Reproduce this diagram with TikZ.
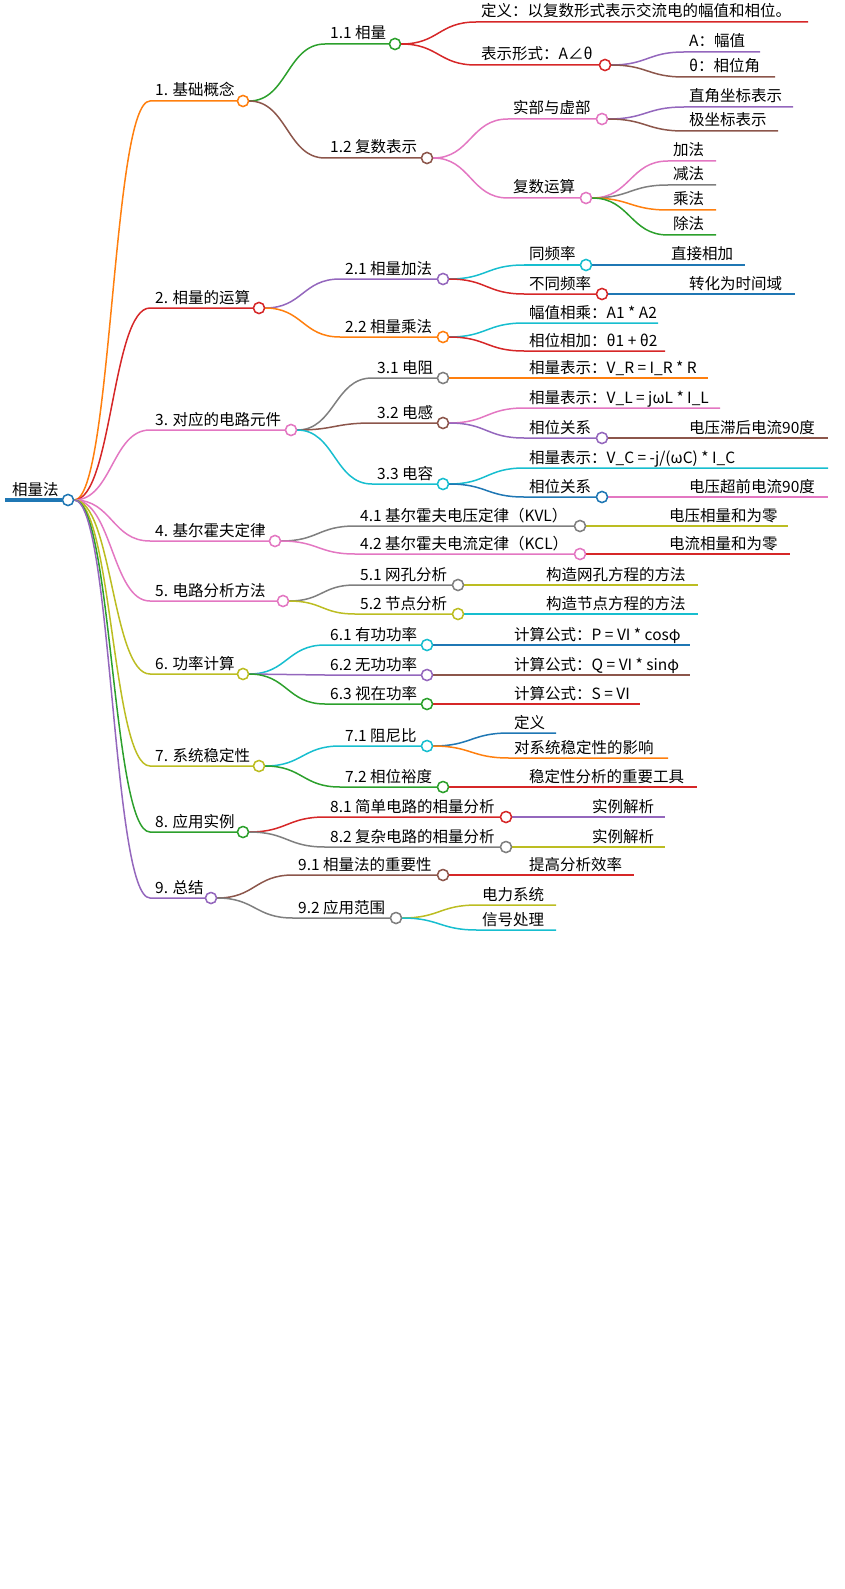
\documentclass[tikz,border=0pt]{standalone}
\usepackage{fontspec}
\setmainfont{Noto Sans CJK SC}
\usetikzlibrary{calc}
\definecolor{cOr}{HTML}{FF7F0E}\definecolor{cRe}{HTML}{D62728}\definecolor{cPi}{HTML}{E377C2}
\definecolor{cGr}{HTML}{2CA02C}\definecolor{cBr}{HTML}{8C564B}\definecolor{cPu}{HTML}{9467BD}
\definecolor{cGy}{HTML}{7F7F7F}\definecolor{cOl}{HTML}{BCBD22}\definecolor{cCy}{HTML}{17BECF}
\definecolor{cBl}{HTML}{1F77B4}
\tikzset{edge/.style={line width=1.5pt},
 circ/.style={circle,fill=white,line width=1.4pt,minimum size=11pt,inner sep=0pt},
 lab/.style={font=\fontsize{15.5}{17}\selectfont,inner sep=0pt,anchor=base west}}
% parent, name, color, sx, y, cx, text
\newcommand\inn[7]{%
 \coordinate (#2s) at (#4,#5);
 \node[circ,draw=#3] (#2) at (#6,#5) {};
 \draw[edge,#3] let \p1=(#1.east), \p2=(#2s) in (\p1) .. controls ({(\x1+\x2)/2},\y1) and ({(\x1+\x2)/2},\y2) .. (\p2) -- (#2.west);
 \node[lab] (#2t) at (#4+5,#5-5) {#7};}
% parent, name, color, sx, y, ex, text
\newcommand\lf[7]{%
 \coordinate (#2s) at (#4,#5);
 \coordinate (#2e) at (#6,#5);
 \draw[edge,#3] let \p1=(#1.east), \p2=(#2s) in (\p1) .. controls ({(\x1+\x2)/2},\y1) and ({(\x1+\x2)/2},\y2) .. (\p2) -- (#2e);
 \node[lab] (#2t) at (#4+5,#5-5) {#7};}
\begin{document}
\begin{tikzpicture}[x=1pt,y=-1pt]
\useasboundingbox (0,0) rectangle (844,1589);
\coordinate (R0) at (5,500);
\node[circ,draw=cBl] (R) at (68,500) {};
\draw[cBl,line width=4pt] (R0) -- (R.west);
\node[lab] (Rt) at (12,495) {相量法};
\inn{R}{n1}{cOr}{150}{101}{243}{1. 基础概念}
\inn{R}{n2}{cRe}{150}{308}{259}{2. 相量的运算}
\inn{R}{n3}{cPi}{150}{430}{291}{3. 对应的电路元件}
\inn{R}{n4}{cPi}{150}{541}{275}{4. 基尔霍夫定律}
\inn{R}{n5}{cPi}{150}{601}{283}{5. 电路分析方法}
\inn{R}{n6}{cOl}{150}{674}{243}{6. 功率计算}
\inn{R}{n7}{cOl}{150}{766}{259}{7. 系统稳定性}
\inn{R}{n8}{cGr}{150}{832}{243}{8. 应用实例}
\inn{R}{n9}{cPu}{150}{898}{211}{9. 总结}
% level 2
\inn{n1}{a11}{cGr}{325}{44}{395}{1.1 相量}
\inn{n1}{a12}{cBr}{325}{158}{427}{1.2 复数表示}
\inn{n2}{a21}{cPu}{340}{279}{443}{2.1 相量加法}
\inn{n2}{a22}{cOr}{340}{337}{443}{2.2 相量乘法}
\inn{n3}{a31}{cGy}{372}{378}{443}{3.1 电阻}
\inn{n3}{a32}{cBr}{372}{423}{443}{3.2 电感}
\inn{n3}{a33}{cCy}{372}{484}{443}{3.3 电容}
\inn{n4}{a41}{cGy}{355}{526}{580}{4.1 基尔霍夫电压定律（KVL）}
\inn{n4}{a42}{cPi}{355}{554}{580}{4.2 基尔霍夫电流定律（KCL）}
\inn{n5}{a51}{cGy}{355}{585}{458}{5.1 网孔分析}
\inn{n5}{a52}{cOl}{355}{614}{458}{5.2 节点分析}
\inn{n6}{a61}{cCy}{325}{645}{427}{6.1 有功功率}
\inn{n6}{a62}{cPu}{325}{675}{427}{6.2 无功功率}
\inn{n6}{a63}{cGr}{325}{704}{427}{6.3 视在功率}
\inn{n7}{a71}{cCy}{340}{746}{427}{7.1 阻尼比}
\inn{n7}{a72}{cGr}{340}{787}{443}{7.2 相位裕度}
\inn{n8}{a81}{cRe}{325}{817}{506}{8.1 简单电路的相量分析}
\inn{n8}{a82}{cGy}{325}{847}{506}{8.2 复杂电路的相量分析}
\inn{n9}{a91}{cBr}{293}{875}{443}{9.1 相量法的重要性}
\inn{n9}{a92}{cGy}{293}{918}{396}{9.2 应用范围}
% level 3
\lf{a11}{b1}{cRe}{476}{22}{808}{定义：以复数形式表示交流电的幅值和相位。}
\inn{a11}{b2}{cRe}{476}{65}{605}{表示形式：A∠θ}
\lf{b2}{b21}{cPu}{684}{52}{760}{A：幅值}
\lf{b2}{b22}{cBr}{684}{77}{775}{θ：相位角}
\inn{a12}{c1}{cPi}{508}{119}{602}{实部与虚部}
\inn{a12}{c2}{cPi}{508}{198}{586}{复数运算}
\lf{c1}{c11}{cPu}{684}{107}{793}{直角坐标表示}
\lf{c1}{c12}{cBr}{684}{131}{778}{极坐标表示}
\lf{c2}{c21}{cPi}{668}{161}{716}{加法}
\lf{c2}{c22}{cGy}{668}{185}{716}{减法}
\lf{c2}{c23}{cOr}{668}{210}{716}{乘法}
\lf{c2}{c24}{cGr}{668}{235}{716}{除法}
\inn{a21}{d1}{cCy}{524}{265}{586}{同频率}
\inn{a21}{d2}{cRe}{524}{294}{602}{不同频率}
\lf{d1}{d11}{cBl}{666}{265}{745}{直接相加}
\lf{d2}{d21}{cBl}{684}{294}{795}{转化为时间域}
\lf{a22}{d3}{cCy}{524}{323}{658}{幅值相乘：A1 * A2}
\lf{a22}{d4}{cRe}{524}{351}{665}{相位相加：θ1 + θ2}
\lf{a31}{e0}{cOr}{524}{378}{708}{相量表示：V\_R = I\_R * R}
\lf{a32}{e3}{cPi}{524}{408}{720}{相量表示：V\_L = jωL * I\_L}
\inn{a32}{e1}{cPu}{524}{438}{602}{相位关系}
\lf{e1}{e11}{cBr}{684}{438}{828}{电压滞后电流90度}
\lf{a33}{e4}{cCy}{524}{468}{828}{相量表示：V\_C = -j/(ωC) * I\_C}
\inn{a33}{e2}{cBl}{524}{497}{602}{相位关系}
\lf{e2}{e21}{cPi}{684}{497}{828}{电压超前电流90度}
\lf{a41}{f1}{cOl}{664}{526}{788}{电压相量和为零}
\lf{a42}{f2}{cRe}{664}{554}{790}{电流相量和为零}
\lf{a51}{g1}{cOl}{541}{585}{698}{构造网孔方程的方法}
\lf{a52}{g2}{cCy}{541}{614}{698}{构造节点方程的方法}
\lf{a61}{h1}{cBl}{509}{645}{690}{计算公式：P = VI * cosφ}
\lf{a62}{h2}{cBr}{509}{675}{690}{计算公式：Q = VI * sinφ}
\lf{a63}{h3}{cRe}{509}{704}{640}{计算公式：S = VI}
\lf{a71}{i1}{cBl}{509}{733}{556}{定义}
\lf{a71}{i2}{cOr}{509}{758}{668}{对系统稳定性的影响}
\lf{a72}{i3}{cRe}{524}{787}{697}{稳定性分析的重要工具}
\lf{a81}{j1}{cPu}{587}{817}{665}{实例解析}
\lf{a82}{j2}{cOl}{587}{847}{665}{实例解析}
\lf{a91}{k1}{cRe}{524}{875}{634}{提高分析效率}
\lf{a92}{k2}{cOl}{477}{905}{556}{电力系统}
\lf{a92}{k3}{cCy}{477}{930}{556}{信号处理}
% redraw circles on top
\node[circ,draw=cBl] at (R) {};
\foreach \n/\c in {a11/cGr,a12/cBr,a21/cPu,a22/cOr,a31/cGy,a32/cBr,a33/cCy,a41/cGy,a42/cPi,a51/cGy,a52/cOl,a61/cCy,a62/cPu,a63/cGr,a71/cCy,a72/cGr,a81/cRe,a82/cGy,a91/cBr,a92/cGy,n1/cOr,n2/cRe,n3/cPi,n4/cPi,n5/cPi,n6/cOl,n7/cOl,n8/cGr,n9/cPu,b2/cRe,c1/cPi,c2/cPi,d1/cCy,d2/cRe,e1/cPu,e2/cBl}
 \node[circ,draw=\c] at (\n) {};
\end{tikzpicture}
\end{document}
